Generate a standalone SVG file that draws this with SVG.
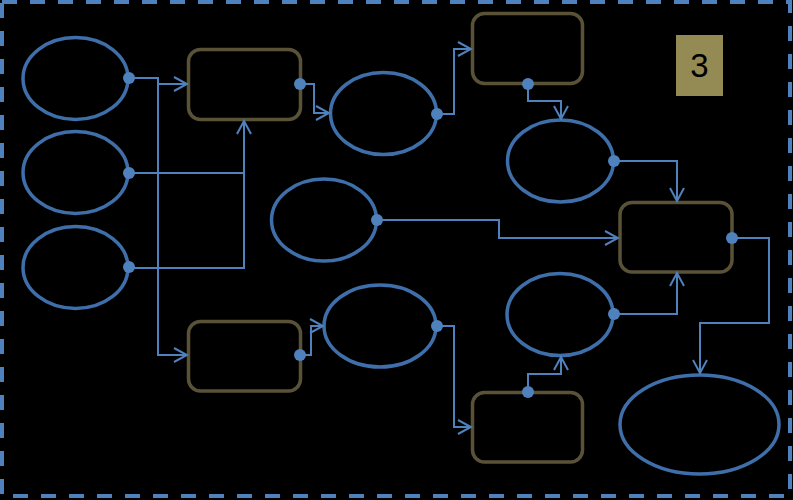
<svg xmlns="http://www.w3.org/2000/svg" width="793" height="500" viewBox="0 0 793 500">
<style>
.ell{fill:none;stroke:#3F6FAA;stroke-width:3.5}
.box{fill:none;stroke:#5A5237;stroke-width:3.5}
.con{fill:none;stroke:#4F81BD;stroke-width:2}
.dot{fill:#4F81BD}
</style>
<defs>
<marker id="arr" markerWidth="16" markerHeight="18" refX="14" refY="8" orient="auto" markerUnits="userSpaceOnUse">
<path d="M1,1 L14,8 L1,15" fill="none" stroke="#4F81BD" stroke-width="2"/>
</marker>
</defs>
<rect width="793" height="500" fill="#000"/>
<rect x="2" y="2" width="788" height="494" fill="none" stroke="#4F81BD" stroke-width="4" stroke-dasharray="15 13"/>

<g id="e1"><ellipse class="ell" cx="75.5" cy="78.5" rx="52.5" ry="41"/></g>
<g id="e2"><ellipse class="ell" cx="75.5" cy="172.5" rx="52.5" ry="41"/></g>
<g id="e3"><ellipse class="ell" cx="75.5" cy="267.5" rx="52.5" ry="41"/></g>
<g id="e4"><ellipse class="ell" cx="324" cy="220" rx="52.5" ry="41"/></g>
<g id="e5"><ellipse class="ell" cx="383.5" cy="113.5" rx="53" ry="41"/></g>
<g id="e6"><ellipse class="ell" cx="560.5" cy="161" rx="53" ry="41"/></g>
<g id="e7"><ellipse class="ell" cx="380" cy="326" rx="56" ry="41"/></g>
<g id="e8"><ellipse class="ell" cx="560" cy="314.5" rx="53" ry="41"/></g>
<g id="e9"><ellipse class="ell" cx="699.5" cy="424.5" rx="79.5" ry="49.5"/></g>

<g id="r1"><rect class="box" x="188.5" y="49.5" width="112" height="70" rx="12"/></g>
<g id="r2"><rect class="box" x="472.5" y="13.5" width="110" height="70" rx="12"/></g>
<g id="r3"><rect class="box" x="620" y="202.5" width="112" height="69.5" rx="12"/></g>
<g id="r4"><rect class="box" x="188.5" y="321.5" width="112" height="69.5" rx="12"/></g>
<g id="r5"><rect class="box" x="472.5" y="392.5" width="110" height="69.5" rx="12"/></g>

<g id="label3">
<rect x="676" y="35" width="47" height="61" fill="#948A54"/>
<text x="699.5" y="77" font-family="'Liberation Sans', Arial, sans-serif" font-size="33" text-anchor="middle" fill="#000">3</text>
</g>

<g id="connectors">
<polyline class="con" points="129,78 158,78 158,84 187,84" marker-end="url(#arr)"/>
<polyline class="con" points="158,84 158,355 187,355" marker-end="url(#arr)"/>
<polyline class="con" points="129,173 244,173 244,121" marker-end="url(#arr)"/>
<polyline class="con" points="129,268 244,268 244,173"/>
<polyline class="con" points="300,84 314,84 314,113 329,113" marker-end="url(#arr)"/>
<polyline class="con" points="437,114 454,114 454,49 471,49" marker-end="url(#arr)"/>
<polyline class="con" points="528,84 528,101 561,101 561,119" marker-end="url(#arr)"/>
<polyline class="con" points="614,161 677,161 677,201" marker-end="url(#arr)"/>
<polyline class="con" points="377,220 499,220 499,238 618,238" marker-end="url(#arr)"/>
<polyline class="con" points="300,355 311,355 311,326 323,326" marker-end="url(#arr)"/>
<polyline class="con" points="437,326 454,326 454,427 471,427" marker-end="url(#arr)"/>
<polyline class="con" points="528,392 528,374 561,374 561,357" marker-end="url(#arr)"/>
<polyline class="con" points="614,314 677,314 677,273" marker-end="url(#arr)"/>
<polyline class="con" points="732,238 769,238 769,323 700,323 700,373" marker-end="url(#arr)"/>
<circle class="dot" cx="129" cy="78" r="6"/>
<circle class="dot" cx="129" cy="173" r="6"/>
<circle class="dot" cx="129" cy="267" r="6"/>
<circle class="dot" cx="300" cy="84" r="6"/>
<circle class="dot" cx="437" cy="114" r="6"/>
<circle class="dot" cx="528" cy="84" r="6"/>
<circle class="dot" cx="614" cy="161" r="6"/>
<circle class="dot" cx="377" cy="220" r="6"/>
<circle class="dot" cx="300" cy="355" r="6"/>
<circle class="dot" cx="437" cy="326" r="6"/>
<circle class="dot" cx="528" cy="392" r="6"/>
<circle class="dot" cx="614" cy="314" r="6"/>
<circle class="dot" cx="732" cy="238" r="6"/>
</g>
</svg>
